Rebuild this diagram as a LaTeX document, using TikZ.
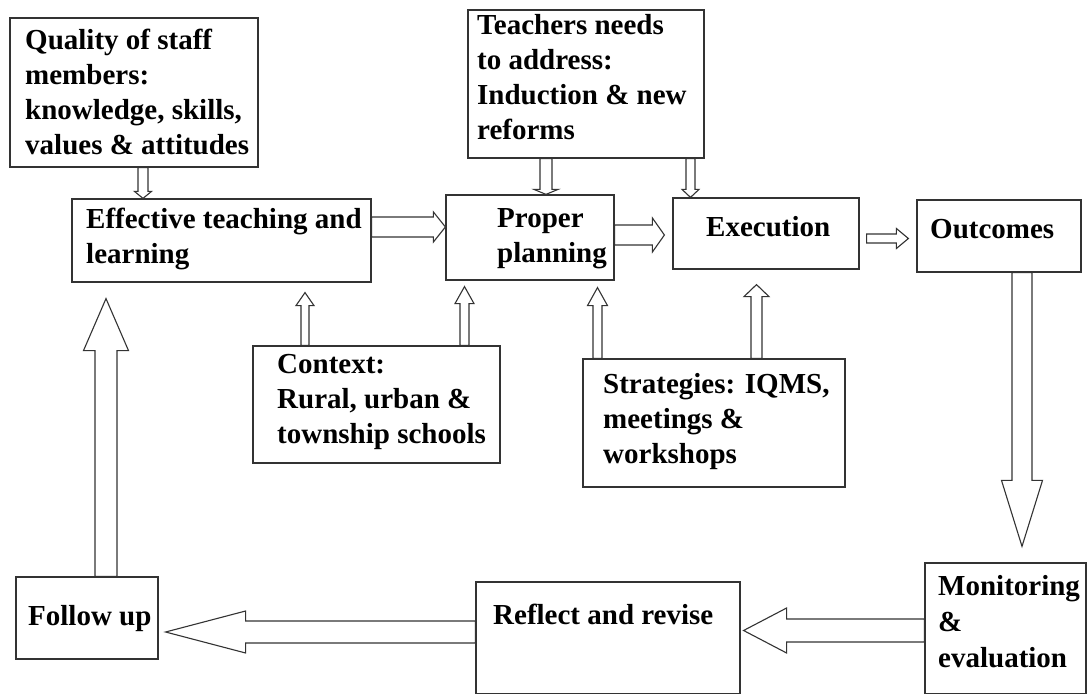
\documentclass[tikz,border=0pt]{standalone}
\usepackage{fontspec}
\setmainfont{Liberation Serif}
\usetikzlibrary{calc}
\tikzset{
  box/.style={draw=black!80, line width=1.2pt, fill=white, inner sep=0pt},
  lbl/.style={inner sep=0pt, align=left, font=\bfseries\fontsize{29}{35}\selectfont, anchor=base west},
  barrow/.style={draw=black!80, line width=1.1pt, fill=white, line join=miter},
}
% #1 name, #2 x1, #3 y1, #4 x2, #5 y2
\newcommand\mkbox[5]{\node[box, minimum width={(#4-#2)*1pt}, minimum height={(#5-#3)*1pt}] (#1) at ({(#2+#4)/2},{(#3+#5)/2}) {};}
% block arrow: #1 start, #2 tip, #3 shaft half width, #4 head half width, #5 head length
\newcommand\blk[5]{%
  \coordinate (bkH) at ($(#2)!#5pt!(#1)$);
  \draw[barrow] ($(#1)!#3pt!90:(#2)$) -- ($(bkH)!#3pt!90:(#2)$) -- ($(bkH)!#4pt!90:(#2)$) -- (#2)
     -- ($(bkH)!#4pt!-90:(#2)$) -- ($(bkH)!#3pt!-90:(#2)$) -- ($(#1)!#3pt!-90:(#2)$) -- cycle;}
\begin{document}
\begin{tikzpicture}[x=1pt,y=-1pt]
\fill[white] (0,0) rectangle (1088,695);
\useasboundingbox (0,0) rectangle (1088,695);
% boxes
\mkbox{quality}{10}{18}{258}{167}
\mkbox{teachers}{468}{10}{704}{158}
\mkbox{effective}{72}{199}{371}{282}
\mkbox{proper}{446}{195}{614}{280}
\mkbox{execution}{673}{198}{859}{269}
\mkbox{outcomes}{917}{200}{1081}{272}
\mkbox{context}{253}{346}{500}{463}
\mkbox{strategies}{583}{359}{845}{487}
\mkbox{followup}{16}{577}{158}{659}
\mkbox{reflect}{476}{582}{740}{693.5}
\mkbox{monitoring}{925}{563}{1086}{693.5}
% texts (anchor = baseline of the last line)
\node[lbl] (quality-t) at (25,155) {Quality of staff\\members:\\knowledge, skills,\\values \& attitudes};
\node[lbl] (teachers-t) at (477,140) {Teachers needs\\to address:\\Induction \& new\\reforms};
\node[lbl] (effective-t) at (86,264) {Effective teaching and\\learning};
\node[lbl] (proper-t) at (497,263) {Proper\\planning};
\node[lbl] (execution-t) at (706,237) {Execution};
\node[lbl] (outcomes-t) at (930,239) {Outcomes};
\node[lbl] (context-t) at (277,443) {Context:\\Rural, urban \&\\township schools};
\node[lbl] (strategies-t) at (603,463) {Strategies: IQMS,\\meetings \&\\workshops};
\node[lbl] (followup-t) at (28,625) {Follow up};
\node[lbl] (reflect-t) at (493,624) {Reflect and revise};
\node[lbl, font=\bfseries\fontsize{29}{36}\selectfont] (monitoring-t) at (938,667) {Monitoring\\\&\\evaluation};
% connector end points
\coordinate (a1s) at (quality.south -| 143,0);
\coordinate (a1t) at (effective.north -| 143,0);
\coordinate (a2s) at (teachers.south -| 546,0);
\coordinate (a2t) at (proper.north -| 546,0);
\coordinate (a3s) at (teachers.south -| 690.5,0);
\coordinate (a3t) at (execution.north -| 690.5,0);
\coordinate (a4s) at (effective.east |- 0,227);
\coordinate (a4t) at (proper.west |- 0,227);
\coordinate (a5s) at (proper.east |- 0,235);
\coordinate (a5t) at ($(execution.west |- 0,235)+(-8,0)$);
\coordinate (a6s) at ($(execution.east |- 0,238.5)+(7,0)$);
\coordinate (a6t) at ($(outcomes.west |- 0,238.5)+(-8,0)$);
\coordinate (a7s) at (context.north -| 305,0);
\coordinate (a7t) at ($(effective.south -| 305,0)+(0,10)$);
\coordinate (a8s) at (context.north -| 464.5,0);
\coordinate (a8t) at ($(proper.south -| 464.5,0)+(0,6)$);
\coordinate (a9s) at (strategies.north -| 597.5,0);
\coordinate (a9t) at ($(proper.south -| 597.5,0)+(0,7)$);
\coordinate (a10s) at (strategies.north -| 756.5,0);
\coordinate (a10t) at ($(execution.south -| 756.5,0)+(0,15)$);
\coordinate (a11s) at (outcomes.south -| 1022,0);
\coordinate (a11t) at ($(monitoring.north -| 1022,0)+(0,-16)$);
\coordinate (a12s) at (monitoring.west |- 0,630.5);
\coordinate (a12t) at ($(reflect.east |- 0,630.5)+(3,0)$);
\coordinate (a13s) at (reflect.west |- 0,632);
\coordinate (a13t) at ($(followup.east |- 0,632)+(7,0)$);
\coordinate (a14s) at (followup.north -| 106,0);
\coordinate (a14t) at ($(effective.south -| 106,0)+(0,16)$);
% connectors (block arrows)
\blk{a1s}{a1t}{5}{8.5}{7}
\blk{a2s}{a2t}{6}{12}{5}
\blk{a3s}{a3t}{4.5}{8.5}{8}
\blk{a4s}{a4t}{10}{15}{12}
\blk{a5s}{a5t}{10}{17}{12}
\blk{a6s}{a6t}{4.5}{10}{12}
\blk{a7s}{a7t}{4}{9}{13}
\blk{a8s}{a8t}{4.5}{9.5}{17}
\blk{a9s}{a9t}{4.5}{10}{18}
\blk{a10s}{a10t}{5.5}{12.5}{12}
\blk{a11s}{a11t}{10}{20.5}{66}
\blk{a12s}{a12t}{11.5}{22.5}{43}
\blk{a13s}{a13t}{11}{21}{80}
\blk{a14s}{a14t}{11}{22.5}{52}
\end{tikzpicture}
\end{document}
